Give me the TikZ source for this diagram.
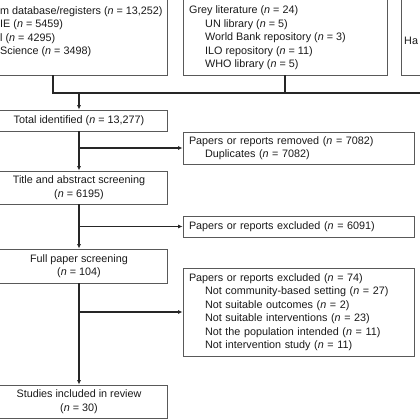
\documentclass[tikz,border=0pt]{standalone}
\usepackage{fontspec}
\setmainfont{Liberation Sans}
\usetikzlibrary{arrows.meta}
\newcommand{\ind}{\hspace*{16pt}}
\newcommand{\nn}{\textit{n}}
\begin{document}
\begin{tikzpicture}[x=1pt,y=-1pt,
  every node/.style={font=\fontsize{10.8pt}{13.5pt}\selectfont, text=black!90, inner sep=0pt},
  box/.style={draw=black!65, line width=0.8pt, rectangle},
  mainbox/.style={box, minimum width=176pt, align=center},
  sidebox/.style={box, minimum width=231pt, text width=219pt, inner xsep=6pt, align=left},
  conn/.style={draw=black!85, line width=1.1pt},
  merge/.style={draw=black!85, line width=1.5pt},
  arr/.style={conn, -{Latex[length=4.5pt,width=4pt]}}
]
\useasboundingbox (0,0) rectangle (420,420);
\clip (0,0) rectangle (420,420);

% top boxes
\node[box, minimum width=228pt, minimum height=78pt] (db) at (53,36) {};
\node[anchor=west, align=left] (dbtext) at (0,31.5) {m database/registers (\nn{} = 13,252)\\IE (\nn{} = 5459)\\l (\nn{} = 4295)\\Science (\nn{} = 3498)};
\node[box, minimum width=204pt, minimum height=78pt] (grey) at (285,36) {};
\node[anchor=west, align=left] (greytext) at (189,38) {Grey literature (\nn{} = 24)\\\ind UN library (\nn{} = 5)\\\ind World Bank repository (\nn{} = 3)\\\ind ILO repository (\nn{} = 11)\\\ind WHO library (\nn{} = 5)};
\node[box, minimum width=60pt, minimum height=78pt] (hand) at (431,36) {};
\node[anchor=west] (handtext) at (404,41) {Ha};

% main column
\node[mainbox, minimum height=21pt] (total) at (79,120.5) {Total identified (\nn{} = 13,277)};
\node[mainbox, minimum height=33pt] (title) at (79,187.5) {Title and abstract screening\\(\nn{} = 6195)};
\node[mainbox, minimum height=34pt] (full) at (79,266) {Full paper screening\\(\nn{} = 104)};
\node[mainbox, minimum height=33pt] (incl) at (79,401.5) {Studies included in review\\(\nn{} = 30)};

% side boxes
\node[sidebox, minimum height=32pt] (removed) at (298.5,148) {Papers or reports removed (\nn{} = 7082)\\\ind Duplicates (\nn{} = 7082)};
\node[sidebox, minimum height=21pt] (exa) at (298.5,226.5) {Papers or reports excluded (\nn{} = 6091)};
\node[sidebox, minimum height=88pt] (exb) at (298.5,312) {Papers or reports excluded (\nn{} = 74)\\\ind Not community-based setting (\nn{} = 27)\\\ind Not suitable outcomes (\nn{} = 2)\\\ind Not suitable interventions (\nn{} = 23)\\\ind Not the population intended (\nn{} = 11)\\\ind Not intervention study (\nn{} = 11)};

% merge connector
\coordinate (m1) at (53,93);
\coordinate (m2) at (285,93);
\coordinate (m3) at (431,93);
\coordinate (mc) at (79,93);
\draw[merge] (db.south) -- (m1) -- (m3) -- (hand.south);
\draw[merge] (grey.south) -- (m2);
\draw[arr] (mc) -- (total.north);

% flow
\draw[arr] (total.south) -- (title.north);
\draw[arr] (title.south) -- (full.north);
\draw[arr] (full.south) -- (incl.north);

\coordinate (b1) at (total.south |- removed.west);
\coordinate (b2) at (title.south |- exa.west);
\coordinate (b3) at (full.south |- exb.west);
\draw[arr] (b1) -- (removed.west);
\draw[arr] (b2) -- (exa.west);
\draw[arr] (b3) -- (exb.west);
\end{tikzpicture}
\end{document}
